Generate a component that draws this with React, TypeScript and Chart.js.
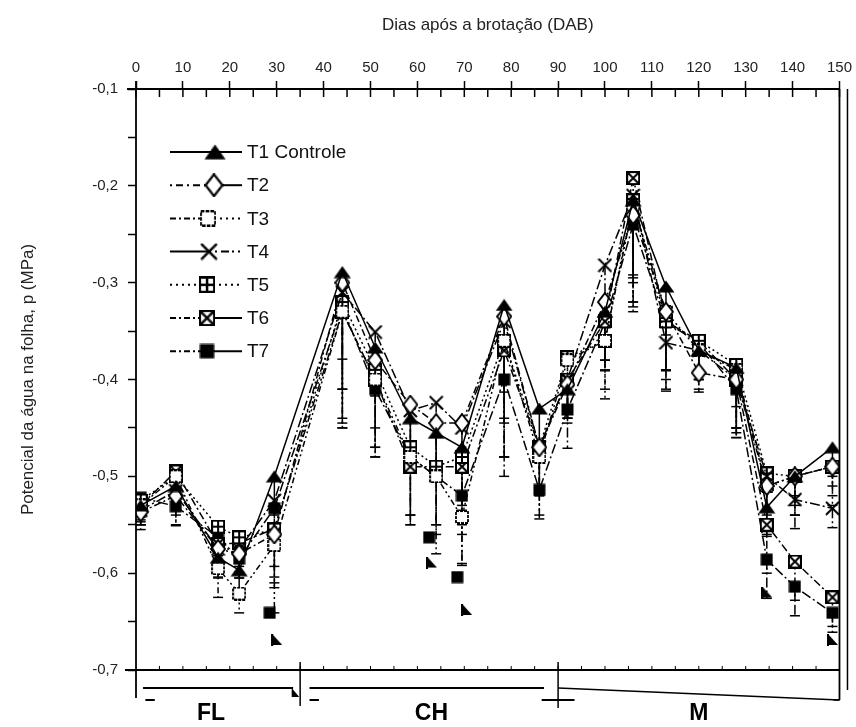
import React, { useEffect, useRef } from 'react';
import { Chart, registerables } from 'chart.js';

Chart.register(...registerables);

// ---- data (days after sprouting, leaf water potential MPa) ----
const DAYS = [1, 8.5, 17.5, 22, 29.5, 44, 51, 58.5, 64, 69.5, 78.5, 86, 92, 100, 106, 113, 120, 128, 134.5, 140.5, 148.5];
const T1 = [-0.530, -0.510, -0.584, -0.597, -0.500, -0.289, -0.367, -0.440, -0.455, -0.470, -0.323, -0.430, -0.410, -0.330, -0.215, -0.304, -0.370, -0.388, -0.532, -0.500, -0.470];
const T2 = [-0.537, -0.520, -0.575, -0.580, -0.560, -0.300, -0.380, -0.426, -0.445, -0.445, -0.335, -0.470, -0.405, -0.320, -0.230, -0.330, -0.393, -0.400, -0.510, -0.500, -0.490];
const T3 = [-0.530, -0.500, -0.595, -0.621, -0.571, -0.330, -0.400, -0.480, -0.500, -0.542, -0.360, -0.480, -0.380, -0.360, -0.220, -0.330, -0.370, -0.390, -0.510, -0.500, -0.490];
const T4 = [-0.535, -0.515, -0.575, -0.575, -0.525, -0.310, -0.351, -0.432, -0.424, -0.450, -0.340, -0.470, -0.400, -0.282, -0.210, -0.362, -0.370, -0.400, -0.500, -0.524, -0.533];
const T5 = [-0.525, -0.500, -0.552, -0.563, -0.555, -0.320, -0.390, -0.470, -0.490, -0.480, -0.360, -0.470, -0.377, -0.360, -0.215, -0.340, -0.360, -0.385, -0.497, -0.500, -0.490];
const T6 = [-0.530, -0.495, -0.570, -0.569, -0.554, -0.330, -0.400, -0.490, -0.490, -0.490, -0.370, -0.470, -0.400, -0.340, -0.192, -0.340, -0.360, -0.400, -0.550, -0.588, -0.625];
const T7 = [-0.522, -0.531, -0.563, -0.585, -0.533, -0.325, -0.410, -0.480, -0.500, -0.520, -0.400, -0.514, -0.431, -0.341, -0.240, -0.341, -0.362, -0.410, -0.586, -0.614, -0.641];
const SERIES = [T1, T2, T3, T4, T5, T6, T7];
const SERIES_LABELS = ['T1 Controle', 'T2', 'T3', 'T4', 'T5', 'T6', 'T7'];

// downward error bars (MPa)
const E1 = [0.02, 0.02, 0.02, 0.03, 0.04, 0.09, 0.05, 0.05, 0.04, 0.06, 0.09, 0.04, 0.03, 0.05, 0.08, 0.05, 0.03, 0.04, 0.03, 0.02, 0.03];
const E2 = [0.01, 0.03, 0.03, 0.02, 0.05, 0.11, 0.07, 0.06, 0.05, 0.09, 0.11, 0.05, 0.04, 0.06, 0.09, 0.06, 0.02, 0.05, 0.04, 0.03, 0.02];
const E3 = [0.02, 0.04, 0.03, 0.02, 0.07, 0.12, 0.08, 0.07, 0.08, 0.05, 0.12, 0.06, 0.05, 0.05, 0.10, 0.06, 0.04, 0.06, 0.05, 0.04, 0.03];
const E4 = [0.02, 0.02, 0.02, 0.03, 0.05, 0.10, 0.06, 0.05, 0.06, 0.07, 0.10, 0.04, 0.04, 0.04, 0.09, 0.05, 0.03, 0.05, 0.04, 0.03, 0.02];
const E5 = [0.02, 0.03, 0.03, 0.03, 0.06, 0.13, 0.08, 0.07, 0.06, 0.08, 0.12, 0.05, 0.05, 0.06, 0.11, 0.07, 0.04, 0.07, 0.06, 0.04, 0.04];
const E6 = [0.02, 0.03, 0.02, 0.03, 0.05, 0.11, 0.07, 0.06, 0.07, 0.06, 0.11, 0.04, 0.04, 0.05, 0.10, 0.06, 0.03, 0.06, 0.05, 0.04, 0.03];
const E7 = [0.02, 0.02, 0.03, 0.02, 0.06, 0.12, 0.07, 0.06, 0.05, 0.07, 0.10, 0.03, 0.04, 0.05, 0.09, 0.05, 0.03, 0.05, 0.04, 0.03, 0.02];
const ERRORS = [E1, E2, E3, E4, E5, E6, E7];

// isolated low marks visible in the figure
const LOW_SQ_DAYS = [28.5, 62.5, 68.5];
const LOW_SQ_VALS = [-0.641, -0.563, -0.604];
const LOW_TRI_DAYS = [30, 63, 70.5, 134.5, 148.5];
const LOW_TRI_VALS = [-0.669, -0.589, -0.638, -0.620, -0.669];

// axes
const X_MIN = 0;
const X_MAX = 150;
const Y_MIN = -0.7;
const Y_MAX = -0.1;
const X_TITLE = 'Dias após a brotação (DAB)';
const Y_TITLE = 'Potencial da água na folha, p (MPa)';

// growth phases
const PHASE_LABELS = ['FL', 'CH', 'M'];
const PHASE_BOUNDS = [0, 35, 90, 150];
const PHASE_CENTERS = [16, 63, 120];

const STYLE = [
  { dash: [], marker: 'tri', legL: [], legR: [] },
  { dash: [7, 3, 2, 3], marker: 'diamond', legL: [2, 4, 7, 4], legR: [] },
  { dash: [6, 3, 2, 3, 2, 3], marker: 'square', legL: [6, 3, 2, 3], legR: [2, 4] },
  { dash: [10, 3, 2, 3], marker: 'cross', legL: [], legR: [2, 4, 2, 4, 8, 3] },
  { dash: [2, 3], marker: 'grid', legL: [2, 4], legR: [2, 4] },
  { dash: [8, 3, 2, 3], marker: 'xbox', legL: [6, 3, 2, 3], legR: [] },
  { dash: [10, 3, 2, 3], marker: 'fill', legL: [6, 3, 2, 3], legR: [] },
];

const FONT = "'Liberation Sans', Arial, sans-serif";

function makeMarker(kind: string): HTMLCanvasElement {
  const sizes: Record<string, number[]> = {
    tri: [18, 13], diamond: [16, 20], square: [14, 14], cross: [15, 15],
    grid: [14, 14], xbox: [14, 14], fill: [13, 13], flag: [11, 12],
  };
  const [w, h] = sizes[kind];
  const c = document.createElement('canvas');
  c.width = w; c.height = h;
  const g = c.getContext('2d')!;
  g.strokeStyle = '#000';
  g.fillStyle = '#000';
  g.lineWidth = 2;
  if (kind === 'tri') {
    g.beginPath(); g.moveTo(w / 2, 0.5); g.lineTo(w - 0.5, h - 0.5); g.lineTo(0.5, h - 0.5); g.closePath(); g.fill();
  } else if (kind === 'diamond') {
    g.beginPath(); g.moveTo(w / 2, 1); g.lineTo(w - 1, h / 2); g.lineTo(w / 2, h - 1); g.lineTo(1, h / 2); g.closePath();
    g.fillStyle = '#fff'; g.fill(); g.stroke();
  } else if (kind === 'square') {
    g.fillStyle = '#fff'; g.fillRect(1, 1, w - 2, h - 2);
    g.lineWidth = 1.8; g.setLineDash([3, 1]); g.strokeRect(1, 1, w - 2, h - 2);
  } else if (kind === 'cross') {
    g.beginPath(); g.moveTo(1, 1); g.lineTo(w - 1, h - 1); g.moveTo(w - 1, 1); g.lineTo(1, h - 1); g.stroke();
  } else if (kind === 'grid') {
    g.fillStyle = '#fff'; g.fillRect(1, 1, w - 2, h - 2); g.strokeRect(1, 1, w - 2, h - 2);
    g.beginPath(); g.moveTo(w / 2, 1); g.lineTo(w / 2, h - 1); g.moveTo(1, h / 2); g.lineTo(w - 1, h / 2); g.stroke();
  } else if (kind === 'xbox') {
    g.fillStyle = '#fff'; g.fillRect(1, 1, w - 2, h - 2); g.strokeRect(1, 1, w - 2, h - 2);
    g.beginPath(); g.moveTo(1, 1); g.lineTo(w - 1, h - 1); g.moveTo(w - 1, 1); g.lineTo(1, h - 1); g.stroke();
  } else if (kind === 'fill') {
    g.fillRect(0.5, 0.5, w - 1, h - 1);
  } else if (kind === 'flag') {
    g.beginPath(); g.moveTo(1, 0); g.lineTo(w, h - 1); g.lineTo(1, h - 1); g.closePath(); g.fill();
    g.fillRect(0, 0, 2, h);
  }
  return c;
}

export default function App() {
  const ref = useRef<HTMLCanvasElement | null>(null);

  useEffect(() => {
    if (!ref.current) return;
    const markers: Record<string, HTMLCanvasElement> = {};
    ['tri', 'diamond', 'square', 'cross', 'grid', 'xbox', 'fill', 'flag'].forEach((k) => { markers[k] = makeMarker(k); });

    const datasets: any[] = SERIES.map((vals, i) => ({
      label: SERIES_LABELS[i],
      data: DAYS.map((d, j) => ({ x: d, y: vals[j] })),
      borderColor: '#000',
      backgroundColor: '#000',
      borderWidth: 1.5,
      borderDash: STYLE[i].dash,
      pointStyle: markers[STYLE[i].marker],
      pointRadius: 7,
      tension: 0,
    }));
    datasets.push({
      label: 'low-sq',
      data: LOW_SQ_DAYS.map((d, j) => ({ x: d, y: LOW_SQ_VALS[j] })),
      showLine: false,
      pointStyle: markers.fill,
      pointRadius: 6,
    });
    datasets.push({
      label: 'low-tri',
      data: LOW_TRI_DAYS.map((d, j) => ({ x: d, y: LOW_TRI_VALS[j] })),
      showLine: false,
      pointStyle: markers.flag,
      pointRadius: 6,
    });

    const errorBars = {
      id: 'errorBars',
      beforeDatasetsDraw(chart: any) {
        const { ctx, scales } = chart;
        const ys = scales.y;
        ctx.save();
        ctx.strokeStyle = '#000';
        ctx.lineWidth = 1.5;
        ERRORS.forEach((errs, i) => {
          const meta = chart.getDatasetMeta(i);
          ctx.setLineDash(STYLE[i].dash.length ? STYLE[i].dash : []);
          meta.data.forEach((pt: any, j: number) => {
            const yb = ys.getPixelForValue(SERIES[i][j] - errs[j]);
            ctx.beginPath();
            ctx.moveTo(pt.x, pt.y);
            ctx.lineTo(pt.x, yb);
            ctx.stroke();
            ctx.setLineDash([]);
            ctx.beginPath();
            ctx.moveTo(pt.x - 5, yb);
            ctx.lineTo(pt.x + 5, yb);
            ctx.stroke();
            ctx.setLineDash(STYLE[i].dash.length ? STYLE[i].dash : []);
          });
        });
        ctx.restore();
      },
    };

    const deco = {
      id: 'deco',
      afterDraw(chart: any) {
        const { ctx, scales } = chart;
        const xs = scales.x, ys = scales.y;
        const X = (v: number) => xs.getPixelForValue(v);
        const Y = (v: number) => ys.getPixelForValue(v);
        const line = (x1: number, y1: number, x2: number, y2: number, w = 1.5) => {
          ctx.lineWidth = w; ctx.beginPath(); ctx.moveTo(x1, y1); ctx.lineTo(x2, y2); ctx.stroke();
        };
        ctx.save();
        ctx.strokeStyle = '#000';
        ctx.fillStyle = '#000';
        ctx.setLineDash([]);
        const top = Y(Y_MAX), bot = Y(Y_MIN), left = X(X_MIN), right = X(X_MAX);
        // frame
        line(left - 9, top, right, top, 1.8);
        line(left, top - 8, left, bot + 28, 1.8);
        line(left - 11, bot, right, bot, 1.8);
        line(right, top, right, bot + 30, 1.8);
        line(right + 8, top, right + 8, bot + 20, 1.5);
        // inward ticks on the top axis
        for (let d = X_MIN; d <= X_MAX; d += 5) line(X(d), top, X(d), top + 8, 1.5);
        // small ticks on the bottom axis
        for (let d = X_MIN + 5; d < X_MAX; d += 5) line(X(d), bot, X(d), bot - 4, 1);
        // phases
        const py = bot + 18;
        const p0 = PHASE_BOUNDS[0], p1 = PHASE_BOUNDS[1], p2 = PHASE_BOUNDS[2], p3 = PHASE_BOUNDS[3];
        line(X(p0 + 1.5), py, X(p1 - 1.5), py, 2);
        line(X(p0 + 2), py + 12, X(p0 + 4), py + 12, 2);
        ctx.beginPath(); ctx.moveTo(X(p1 - 1.8), py); ctx.lineTo(X(p1 - 0.2), py + 9); ctx.lineTo(X(p1 - 1.8), py + 9); ctx.closePath(); ctx.fill();
        line(X(p1), bot - 8, X(p1), bot + 36, 1.5);
        line(X(p1 + 2), py, X(p2 - 3), py, 2);
        line(X(p1 + 2), py + 12, X(p1 + 4), py + 12, 2);
        line(X(p2), bot - 8, X(p2), bot + 38, 1.5);
        line(X(p2 - 3.5), py + 12, X(p2 + 3.5), py + 12, 2);
        line(X(p2), py, X(p3), py + 12, 1.5);
        line(X(p3) - 6, py + 12, X(p3), py + 12, 1.5);
        ctx.font = `bold 23px ${FONT}`;
        ctx.textAlign = 'center';
        ctx.textBaseline = 'middle';
        PHASE_LABELS.forEach((lab, i) => ctx.fillText(lab, X(PHASE_CENTERS[i]), bot + 44));

        // legend
        const lx0 = 170, lx1 = 242, ly0 = 152, lstep = 33.2;
        const mx = [215, 214, 208, 209, 207, 207, 207];
        for (let i = 0; i < SERIES_LABELS.length; i++) {
          const yy = ly0 + i * lstep;
          ctx.strokeStyle = '#000';
          ctx.setLineDash(STYLE[i].legL);
          line(lx0, yy, mx[i], yy, 2);
          ctx.setLineDash(STYLE[i].legR);
          line(mx[i], yy, lx1, yy, 2);
          ctx.setLineDash([]);
          const m = markers[STYLE[i].marker];
          const s = i === 0 ? 1.25 : 1.2;
          ctx.drawImage(m, mx[i] - (m.width * s) / 2, yy - (m.height * s) / 2, m.width * s, m.height * s);
          ctx.fillStyle = '#111';
          ctx.font = `19px ${FONT}`;
          ctx.textAlign = 'left';
          ctx.textBaseline = 'middle';
          ctx.fillText(SERIES_LABELS[i], 247, yy + 1);
          ctx.fillStyle = '#000';
        }
        ctx.restore();
      },
    };

    const chart = new Chart(ref.current, {
      type: 'line',
      data: { datasets },
      plugins: [errorBars, deco],
      options: {
        animation: false,
        responsive: false,
        layout: { padding: { left: 0, right: 11, top: 0, bottom: 57 } },
        plugins: { legend: { display: false }, tooltip: { enabled: false } },
        scales: {
          x: {
            type: 'linear',
            position: 'top',
            min: X_MIN,
            max: X_MAX,
            afterFit: (s: any) => { s.height = 89; },
            border: { display: false },
            grid: {
              drawOnChartArea: false,
              drawTicks: true,
              tickLength: 8,
              tickWidth: 1.5,
              tickColor: (c: any) => (c.tick && Math.round(c.tick.value) % 10 === 0 ? '#000' : 'rgba(0,0,0,0)'),
            },
            ticks: {
              stepSize: 5,
              autoSkip: false,
              maxRotation: 0,
              padding: 4,
              color: '#222',
              font: { family: FONT, size: 15 },
              callback: (v: any) => (Math.round(v) % 10 === 0 ? String(Math.round(v)) : ''),
            },
            title: {
              display: true,
              text: X_TITLE,
              color: '#222',
              font: { family: FONT, size: 17 },
              padding: { top: 15, bottom: 0 },
            },
          },
          y: {
            type: 'linear',
            min: Y_MIN,
            max: Y_MAX,
            afterFit: (s: any) => { s.width = 136; },
            border: { display: false },
            grid: {
              drawOnChartArea: false,
              drawTicks: true,
              tickLength: 8,
              tickWidth: 1.5,
              tickColor: '#000',
            },
            ticks: {
              stepSize: 0.05,
              autoSkip: false,
              padding: 10,
              color: '#222',
              font: { family: FONT, size: 15 },
              callback: (v: any) => {
                const t = Number(v) * 10;
                return Math.abs(t - Math.round(t)) < 1e-6 ? Number(v).toFixed(1).replace('.', ',') : '';
              },
            },
            title: {
              display: true,
              text: Y_TITLE,
              color: '#222',
              font: { family: FONT, size: 17 },
              padding: { top: 18, bottom: 0 },
            },
          },
        },
      },
    });
    return () => chart.destroy();
  }, []);

  return (
    <div style={{ position: 'absolute', left: 0, top: 0, width: 856, height: 727, background: '#fff' }}>
      <canvas ref={ref} width={856} height={727} style={{ width: 856, height: 727, display: 'block' }} />
    </div>
  );
}
